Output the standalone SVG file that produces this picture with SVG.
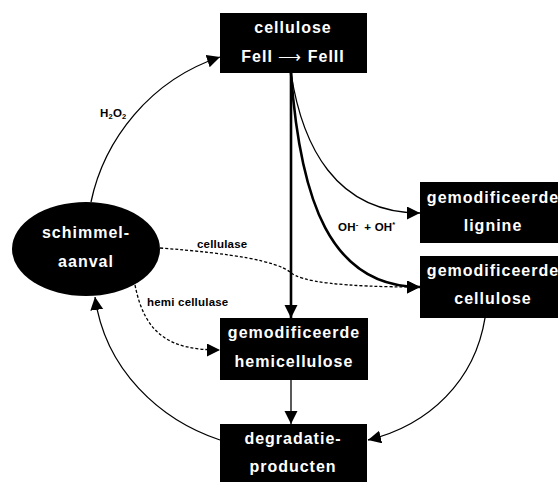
<svg xmlns="http://www.w3.org/2000/svg" width="558" height="482" viewBox="0 0 558 482">
<style>
.box{fill:#000}
.nt{font-family:"Liberation Sans",Arial,sans-serif;font-weight:bold;font-size:16px;fill:#fff;text-anchor:middle;letter-spacing:1px}
.lbl{font-family:"Liberation Sans",Arial,sans-serif;font-weight:bold;font-size:11.5px;fill:#000;letter-spacing:0.2px}
.c{fill:none;stroke:#000;stroke-width:1.3}
.thick{stroke-width:2.6}
.dot{stroke-dasharray:3 2;stroke-width:1.3}
</style>
<defs>
<marker id="ah" markerUnits="userSpaceOnUse" markerWidth="14" markerHeight="14" refX="13" refY="6.5" orient="auto">
<path d="M0,0 L13,6.5 L0,13 Z" fill="#000"/>
</marker>
</defs>
<rect width="558" height="482" fill="#fff"/>
<g id="connectors">
<path class="c" d="M91,202 C104,140 150,80 220,57" marker-end="url(#ah)"/>
<path class="c thick" d="M291,73 L291,318" marker-end="url(#ah)"/>
<path class="c" d="M291,73 C302,145 335,213 420,213" marker-end="url(#ah)"/>
<path class="c thick" d="M291,73 C300,200 330,287 420,287" marker-end="url(#ah)"/>
<path class="c dot" d="M160,248 Q270,256 290,272 Q305,287 420,287" marker-end="url(#ah)"/>
<path class="c dot" d="M135,285 C145,335 170,350 220,350" marker-end="url(#ah)"/>
<path class="c" d="M291,380 L291,424" marker-end="url(#ah)"/>
<path class="c" d="M485,318 C475,380 430,425 368,440" marker-end="url(#ah)"/>
<path class="c" d="M220,440 C160,420 105,370 95,297" marker-end="url(#ah)"/>
<text class="lbl" x="100" y="117">H<tspan font-size="7.5" dy="2">2</tspan><tspan dy="-2">O</tspan><tspan font-size="7.5" dy="2">2</tspan></text>
<text class="lbl" x="338" y="231">OH<tspan font-size="7.5" dy="-4">-</tspan><tspan dx="6" dy="4">+ OH</tspan><tspan font-size="7.5" dy="-4">*</tspan></text>
<text class="lbl" x="197" y="248">cellulase</text>
<text class="lbl" x="147" y="306">hemi cellulase</text>
</g>
<g id="schimmel">
<ellipse cx="86" cy="249" rx="74" ry="47" fill="#000"/>
<text class="nt" x="86" y="238">schimmel-</text>
<text class="nt" x="86" y="267">aanval</text>
</g>
<g id="cellulose">
<rect class="box" x="220" y="13" width="147" height="60"/>
<text class="nt" x="293" y="33">cellulose</text>
<text class="nt" x="293" y="62">FeII <tspan font-weight="normal">⟶</tspan> FeIII</text>
</g>
<g id="lignine">
<rect class="box" x="420" y="182" width="147" height="61"/>
<text class="nt" x="493" y="203">gemodificeerde</text>
<text class="nt" x="493" y="231">lignine</text>
</g>
<g id="gem-cellulose">
<rect class="box" x="420" y="256" width="147" height="62"/>
<text class="nt" x="493" y="276">gemodificeerde</text>
<text class="nt" x="493" y="304">cellulose</text>
</g>
<g id="hemicellulose">
<rect class="box" x="220" y="318" width="148" height="62"/>
<text class="nt" x="294" y="338">gemodificeerde</text>
<text class="nt" x="294" y="367">hemicellulose</text>
</g>
<g id="degradatie">
<rect class="box" x="220" y="424" width="147" height="62"/>
<text class="nt" x="293" y="444">degradatie-</text>
<text class="nt" x="293" y="472">producten</text>
</g>
</svg>
